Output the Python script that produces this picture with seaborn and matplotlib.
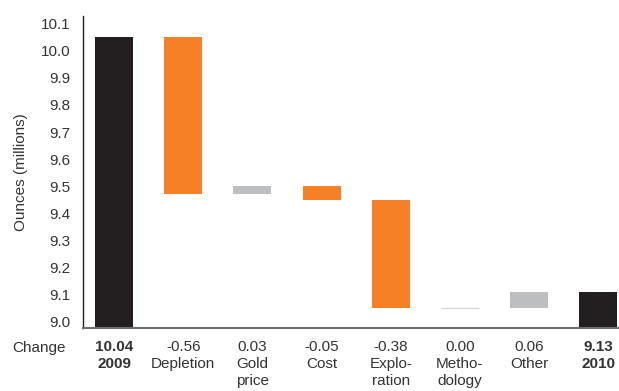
import matplotlib
matplotlib.use("Agg")
import matplotlib.pyplot as plt
import seaborn as sns
import numpy as np
import pandas as pd

# ---- data ----
categories = ["2009", "Depletion", "Gold\nprice", "Cost", "Explo-\nration", "Metho-\ndology", "Other", "2010"]
change_labels = ["10.04", "-0.56", "0.03", "-0.05", "-0.38", "0.00", "0.06", "9.13"]
# bar levels as drawn (top / bottom in millions of ounces)
bar_tops = [10.05, 10.05, 9.50, 9.50, 9.45, 9.05, 9.11, 9.11]
bar_bottoms = [8.90, 9.47, 9.47, 9.45, 9.05, 9.05, 9.05, 8.90]
kinds = ["total", "down", "up", "down", "down", "zero", "up", "total"]
yticks = [9.0, 9.1, 9.2, 9.3, 9.4, 9.5, 9.6, 9.7, 9.8, 9.9, 10.0, 10.1]

colors = {"total": "#231f20", "down": "#f58025", "up": "#bcbec0", "zero": "#d4d5d6"}
text_color = "#333333"

sns.set_style("white")
plt.rcParams["font.family"] = ["Liberation Sans", "DejaVu Sans"]

df = pd.DataFrame({
    "cat": categories,
    "height": np.array(bar_tops) - np.array(bar_bottoms),
    "bottom": bar_bottoms,
})

fig = plt.figure(figsize=(6.19, 3.91), dpi=100)
ax = fig.add_axes([0.1336, 0.162, 0.8664, 0.797])

sns.barplot(data=df, x="cat", y="height", order=categories, bottom=df["bottom"].values,
            color="#231f20", width=0.55, errorbar=None, saturation=1, ax=ax, linewidth=0)

for patch, kind in zip(ax.patches, kinds):
    patch.set_facecolor(colors[kind])
    if kind == "zero":
        patch.set_edgecolor(colors[kind])
        patch.set_linewidth(1.0)

ax.set_ylim(8.978, 10.128)
ax.set_xlim(-0.453, 7.30)
ax.set_yticks(yticks)
ax.set_yticklabels([f"{v:.1f}" for v in yticks], fontsize=11, color=text_color)
ax.tick_params(axis="y", length=0, pad=9)
ax.tick_params(axis="x", length=0, pad=9)

xt = [f"{c}\n{n}" for c, n in zip(change_labels, categories)]
ax.set_xticks(range(len(categories)))
ax.set_xticklabels(xt, fontsize=11, color=text_color, linespacing=1.25, va="top")
for lbl, kind in zip(ax.get_xticklabels(), kinds):
    if kind == "total":
        lbl.set_fontweight("bold")

ax.set_xlabel("")
ax.set_ylabel("Ounces (millions)", fontsize=11, color=text_color, labelpad=9)

for s in ["top", "right"]:
    ax.spines[s].set_visible(False)
ax.spines["left"].set_color("#231f20")
ax.spines["left"].set_linewidth(1.0)
ax.spines["bottom"].set_color("#6d6e71")
ax.spines["bottom"].set_linewidth(1.5)

fig.text(39 / 619, 1 - 348 / 391, "Change", fontsize=11, color=text_color,
         ha="center", va="center")

fig.savefig("out.png", dpi=100)
